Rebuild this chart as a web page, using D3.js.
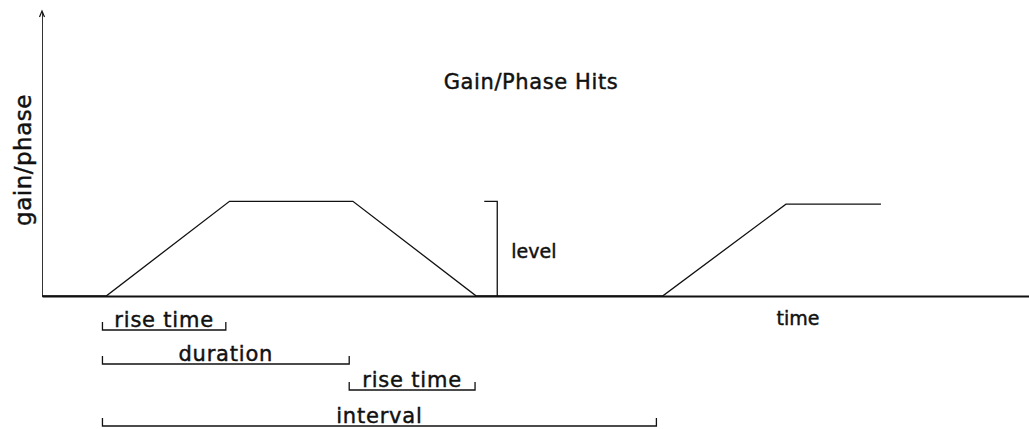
<!DOCTYPE html>
<html>
<head>
<meta charset="utf-8">
<script src="https://cdn.jsdelivr.net/npm/d3@7"></script>
<style>
    body { margin: 0; background: #fff; }
    svg { display: block; }
    text { font-family: "DejaVu Sans", sans-serif; fill: #111; stroke: #111; stroke-width: 0.45; }
    .line { fill: none; stroke: #111; stroke-width: 1.3; }
</style>
</head>
<body>
<svg id="chart"></svg>
<script>
"use strict";

const width = 1029;
const height = 429;
const margin = { top: 12, right: 0, bottom: 133, left: 42 };

// Signal: time (arbitrary units) and gain/phase level
const pulseTimes = [0, 0.52, 1.52, 2.52, 3.52, 3.69, 5.03, 6.03, 6.8];
const pulseLevels = [0, 0, 1, 1, 0, 0, 0, 0.97, 0.97];

// Level marker
const levelTime = 3.69;
const levelValue = 1;

// Bracket annotations below the axis: label, start, end, row
const bracketLabels = ["rise time", "duration", "rise time", "interval"];
const bracketStart = [0.49, 0.49, 2.49, 0.49];
const bracketEnd = [1.49, 2.49, 3.51, 4.98];
const bracketRowY = [330, 364, 390, 426];

const svg = d3.select("#chart")
    .attr("width", width)
    .attr("height", height);

const xScale = d3.scaleLinear()
    .domain([0, 8])
    .range([margin.left, width - margin.right]);

const yScale = d3.scaleLinear()
    .domain([0, 3])
    .range([height - margin.bottom, margin.top]);

const baseY = yScale(0);

// axes, no ticks
svg.append("g")
    .attr("transform", `translate(0, ${baseY})`)
    .call(d3.axisBottom(xScale).tickValues([]).tickSizeOuter(0))
    .select(".domain")
    .attr("stroke", "#111")
    .attr("stroke-width", 2);

svg.append("g")
    .attr("transform", `translate(${margin.left}, 0)`)
    .call(d3.axisLeft(yScale).tickValues([]).tickSizeOuter(0))
    .select(".domain")
    .attr("stroke", "#333")
    .attr("stroke-width", 1);

// arrow head on y axis
svg.append("path")
    .attr("d", `M${margin.left - 2.5},${margin.top + 5} L${margin.left},${margin.top - 1} L${margin.left + 2.5},${margin.top + 5}`)
    .attr("fill", "none")
    .attr("stroke", "#111")
    .attr("stroke-width", 1.2);

// the pulse line
const lineValues = d3.line()
    .x((d, i) => xScale(pulseTimes[i]))
    .y(d => yScale(d));

svg.append("path")
    .datum(pulseLevels)
    .attr("class", "line")
    .attr("d", lineValues);

// level marker
svg.append("path")
    .attr("class", "line")
    .attr("d", `M${xScale(levelTime) - 13},${yScale(levelValue)} H${xScale(levelTime)} V${baseY}`);

svg.append("text")
    .attr("x", xScale(levelTime) + 14)
    .attr("y", yScale(levelValue / 2) + 9)
    .attr("font-size", 19)
    .text("level");

// brackets
bracketLabels.forEach((label, i) => {
    const x0 = xScale(bracketStart[i]);
    const x1 = xScale(bracketEnd[i]);
    const y = bracketRowY[i];
    svg.append("path")
        .attr("class", "line")
        .attr("stroke-width", 1.5)
        .attr("d", `M${x0},${y - 8} V${y} H${x1} V${y - 8}`);
    svg.append("text")
        .attr("x", (x0 + x1) / 2)
        .attr("y", y - 3)
        .attr("text-anchor", "middle")
        .attr("font-size", 21)
        .attr("letter-spacing", 0.8)
        .text(label);
});

// titles
svg.append("text")
    .attr("x", 531)
    .attr("y", 89)
    .attr("text-anchor", "middle")
    .attr("font-size", 21)
    .attr("letter-spacing", 0.6)
    .text("Gain/Phase Hits");

svg.append("text")
    .attr("x", 798)
    .attr("y", 325)
    .attr("text-anchor", "middle")
    .attr("font-size", 19)
    .text("time");

svg.append("text")
    .attr("transform", `translate(31, 160) rotate(-90)`)
    .attr("text-anchor", "middle")
    .attr("font-size", 23)
    .attr("letter-spacing", 0.5)
    .text("gain/phase");
</script>
</body>
</html>
